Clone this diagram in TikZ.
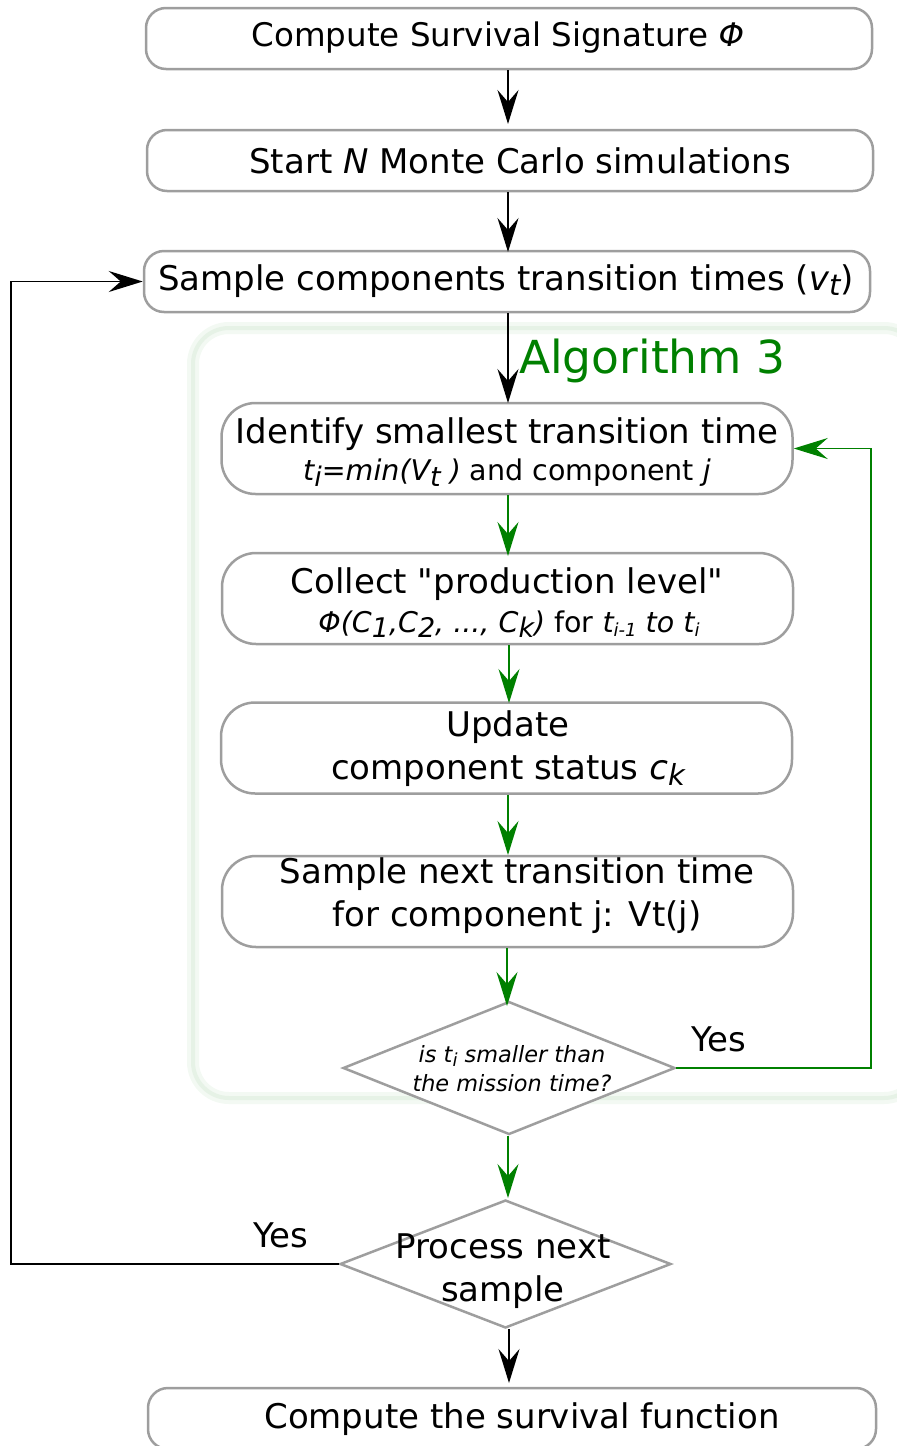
\documentclass[tikz,border=0pt]{standalone}
\usepackage{fontspec}
\setmainfont{DejaVu Sans}
\usetikzlibrary{arrows.meta,shapes.geometric}
\definecolor{boxgray}{HTML}{9E9E9E}
\definecolor{algreen}{HTML}{008000}
\definecolor{glowA}{HTML}{F3F9F3}
\definecolor{glowB}{HTML}{E6F2E6}
\newcommand{\mysub}[1]{\raisebox{-0.3ex}{\fontsize{18}{18}\selectfont #1}}
\newcommand{\mybig}[1]{\raisebox{-0.35ex}{\fontsize{27}{27}\selectfont #1}}
\newcommand{\mainbig}[1]{\raisebox{-0.3ex}{\fontsize{29}{29}\selectfont #1}}
\newcommand{\straightq}{\XeTeXglyph\XeTeXcharglyph"0022\relax}
\tikzset{
  wide/.style={draw=boxgray, line width=2.5pt, rounded corners=20pt, fill=white,
    minimum width=726pt, minimum height=61pt, inner sep=0pt},
  inner/.style={draw=boxgray, line width=2.5pt, rounded corners=34pt, fill=white,
    minimum width=571pt, minimum height=91pt, inner sep=0pt},
  dec/.style={diamond, draw=boxgray, line width=2.5pt, fill=white, inner sep=0pt},
  txt/.style={inner sep=0pt, align=center, font=\fontsize{34}{43}\selectfont},
  small/.style={inner sep=0pt, align=center, font=\fontsize{28.5}{34}\selectfont},
  barrow/.style={draw=black, line width=1.8pt, -{Stealth[length=34pt, width=21pt, inset=12pt]}},
  garrow/.style={draw=algreen, line width=1.8pt, -{Stealth[length=34pt, width=21pt, inset=12pt]}},
}
\begin{document}
\begin{tikzpicture}[x=1pt, y=-1pt]
\useasboundingbox (0,0) rectangle (897,1446);
% Algorithm 3 container glow
\draw[glowA, line width=12pt, rounded corners=36pt] (193,328) rectangle (920,1098);
\draw[glowB, line width=4pt, rounded corners=36pt] (193,328) rectangle (920,1098);
\node[txt, text=algreen, font=\fontsize{45.5}{50}\selectfont, anchor=base west] (alg) at (519,373) {Algorithm 3};

\node[wide] (b1) at (509,38.5) {};
\node[txt, font=\fontsize{32.5}{38}\selectfont] (t1) at (498,38) {Compute Survival Signature \textit{Φ}};
\node[wide] (b2) at (510,160.5) {};
\node[txt] (t2) at (520,161) {Start \textit{N} Monte Carlo simulations};
\node[wide] (b3) at (507,281.5) {};
\node[txt] (t3) at (506,281) {Sample components transition times (\textit{v\mainbig{t}})};

\node[inner] (b4) at (507,448.5) {};
\node[txt] (t4a) at (507,434) {Identify smallest transition time};
\node[small] (t4b) at (507,473) {\textit{t\mybig{i}=min(V\mybig{t} )} and component \textit{j}};

\node[inner] (b5) at (507.5,598.5) {};
\node[txt] (t5a) at (507,584) {Collect \straightq production level\straightq};
\node[small] (t5b) at (509,624) {\textit{Φ(C\mybig{1},C\mybig{2}, ..., C\mybig{k})} for \textit{t\mysub{i-1} to t\mysub{i}}};

\node[inner] (b6) at (506.5,748) {};
\node[txt] (t6) at (508,749) {Update\\ component status \textit{c\mainbig{k}}};

\node[inner] (b7) at (507.5,901.5) {};
\node[txt] (t7) at (517,896) {Sample next transition time\\ for component j: Vt(j)};

\node[dec, minimum width=332pt, minimum height=133pt] (d1) at (509,1068) {};
\node[txt, font=\fontsize{22.4}{29}\selectfont\itshape] (td1) at (512,1069) {is t\mysub{i} smaller than\\the mission time?};
\node[txt, anchor=base] (y1) at (719,1051) {Yes};

\node[dec, minimum width=331pt, minimum height=128pt] (d2) at (505.5,1264) {};
\node[txt] (td2) at (503,1271) {Process next\\ sample};
\node[txt, anchor=base] (y2) at (281,1247) {Yes};

\node[wide, minimum width=728pt] (b8) at (512,1418.5) {};
\node[txt] (t8) at (522,1419) {Compute the survival function};

% connectors
\coordinate (c12) at (508,124);
\coordinate (c23) at (508,252);
\coordinate (c34) at (508,403);
\coordinate (c45) at (508,556);
\coordinate (c56) at (509,703);
\coordinate (c67) at (508,855);
\coordinate (c7d) at (507,1006);
\coordinate (cdd) at (508,1198);
\coordinate (cd8) at (509,1383);
\draw[barrow] (b1.south -| c12) -- (c12);
\draw[barrow] (b2.south -| c23) -- (c23);
\draw[barrow] (b3.south -| c34) -- (c34);
\draw[garrow] (b4.south -| c45) -- (c45);
\draw[garrow] (b5.south -| c56) -- (c56);
\draw[garrow] (b6.south -| c67) -- (c67);
\draw[garrow] (b7.south -| c7d) -- (c7d);
\draw[garrow] (d1.south -| cdd) -- (cdd);
\draw[barrow] (d2.south -| cd8) -- (cd8);

\coordinate (gr) at (871,1068);
\draw[garrow] (d1.east) -- (gr) |- (b4.east);
\coordinate (bl) at (11,1264);
\draw[barrow] (d2.west) -- (bl) |- (b3.west);
\end{tikzpicture}
\end{document}
